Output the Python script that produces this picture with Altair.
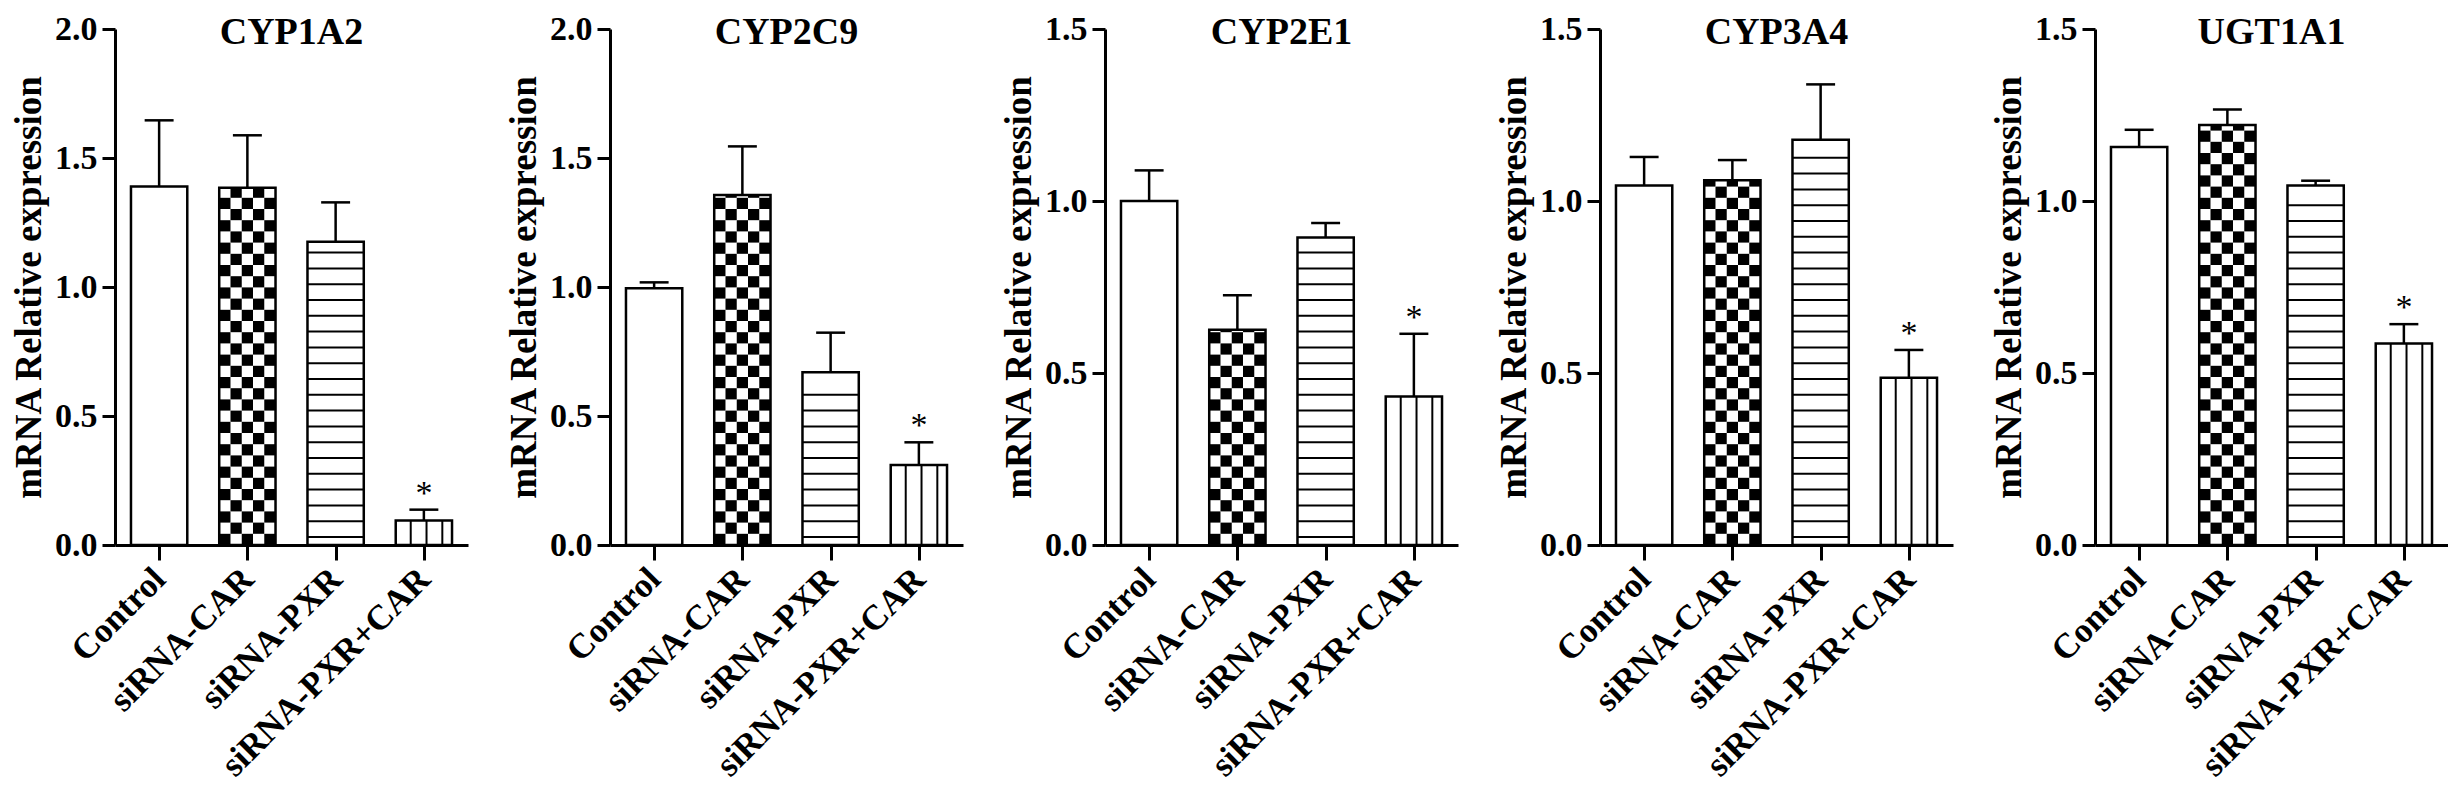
import json
import math
import altair as alt
import pandas as pd

# ---------------- data ----------------
groups = ["Control", "siRNA-CAR", "siRNA-PXR", "siRNA-PXR+CAR"]
genes = ["CYP1A2", "CYP2C9", "CYP2E1", "CYP3A4", "UGT1A1"]
y_max = [2.0, 2.0, 1.5, 1.5, 1.5]

mean_cyp1a2 = [1.390, 1.385, 1.175, 0.095]
mean_cyp2c9 = [0.995, 1.357, 0.670, 0.310]
mean_cyp2e1 = [1.000, 0.626, 0.894, 0.432]
mean_cyp3a4 = [1.045, 1.060, 1.178, 0.486]
mean_ugt1a1 = [1.157, 1.221, 1.045, 0.586]

sd_cyp1a2 = [0.256, 0.203, 0.153, 0.042]
sd_cyp2c9 = [0.023, 0.188, 0.153, 0.088]
sd_cyp2e1 = [0.089, 0.100, 0.042, 0.182]
sd_cyp3a4 = [0.083, 0.059, 0.161, 0.081]
sd_ugt1a1 = [0.050, 0.045, 0.014, 0.056]

significant = [False, False, False, True]

means = [mean_cyp1a2, mean_cyp2c9, mean_cyp2e1, mean_cyp3a4, mean_ugt1a1]
sds = [sd_cyp1a2, sd_cyp2c9, sd_cyp2e1, sd_cyp3a4, sd_ugt1a1]

# ---------------- styles ----------------
FONT = "Liberation Serif"
PLOT_W, PLOT_H = 353, 516
HALF = 0.319          # half bar width, in category units
CAP = 0.164           # half error-cap width, in category units
STEP_PX = PLOT_W / 4  # pixels per category unit
CELL_PX = 11.2        # checkerboard cell
LINE_PX = 15.8        # hatch spacing
LINE_OFF_PX = 8.0     # first horizontal hatch above baseline
BAR_STROKE = 2.5

label_expr = json.dumps(groups) + "[datum.value]"


def panel(gene, ymax, mean, sd):
    df = pd.DataFrame({"idx": list(range(len(groups))), "group": groups,
                       "mean": mean, "sd": sd, "sig": significant})
    df["top"] = df["mean"] + df["sd"]
    df["left"] = df["idx"] - HALF
    df["right"] = df["idx"] + HALF

    px_per_unit = PLOT_H / ymax

    bars = pd.DataFrame({"xa": df["left"], "xb": df["right"], "ya": df["mean"], "yb": 0.0})

    # checkerboard for siRNA-CAR
    cw = 2 * HALF / 5
    ch = CELL_PX / px_per_unit
    r1 = df.iloc[1]
    cells = []
    for r in range(int(math.ceil(r1["mean"] / ch))):
        for c in range(5):
            if (r + c) % 2 == 0:
                cells.append({"xa": r1["left"] + c * cw, "xb": r1["left"] + (c + 1) * cw,
                              "ya": r * ch, "yb": min((r + 1) * ch, r1["mean"])})
    checker = pd.DataFrame(cells)

    # horizontal hatch for siRNA-PXR
    r2 = df.iloc[2]
    sp = LINE_PX / px_per_unit
    hl = []
    k = 0
    while LINE_OFF_PX / px_per_unit + k * sp < r2["mean"] - 0.5 * sp:
        hl.append({"xa": r2["left"], "xb": r2["right"], "ya": LINE_OFF_PX / px_per_unit + k * sp})
        k += 1
    hlines = pd.DataFrame(hl)

    # vertical hatch for siRNA-PXR+CAR
    r3 = df.iloc[3]
    vl = []
    for k in range(1, 4):
        vl.append({"xa": r3["left"] + (k * LINE_PX - 0.8) / STEP_PX, "ya": 0.0, "yb": r3["mean"]})
    vlines = pd.DataFrame(vl)

    # error bars (upper SD only)
    errs = pd.DataFrame({"xa": df["idx"], "ya": df["mean"], "yb": df["top"]})
    caps = pd.DataFrame({"xa": df["idx"] - CAP, "xb": df["idx"] + CAP, "ya": df["top"]})
    stars = pd.DataFrame({"xa": df["idx"][df["sig"]], "ya": df["top"][df["sig"]]})

    xs = alt.Scale(domain=[-0.5, 3.5], nice=False, zero=False)
    ys = alt.Scale(domain=[0, ymax], nice=False)
    yticks = [round(v * 0.5, 1) for v in range(int(ymax / 0.5) + 1)]

    X = lambda **kw: alt.X("xa:Q", scale=xs, **kw)
    Y = lambda **kw: alt.Y("ya:Q", scale=ys, **kw)

    base = alt.Chart(bars).mark_bar(fill="white", stroke=None).encode(
        x=X(axis=alt.Axis(values=[0, 1, 2, 3], labelExpr=label_expr, title=None,
                          labelAngle=-45, labelAlign="right", labelBaseline="middle",
                          labelOverlap=False, labelFlush=False, labelLimit=0,
                          labelFontSize=35, tickSize=15, labelPadding=13, grid=False)),
        x2="xb:Q",
        y=Y(axis=alt.Axis(values=yticks, format=".1f", title="mRNA Relative expression",
                          labelFontSize=34, tickSize=13, labelPadding=5, titlePadding=6,
                          grid=False)),
        y2="yb:Q",
    )

    chk = alt.Chart(checker).mark_rect(fill="black", stroke=None).encode(
        x=X(), x2="xb:Q", y=Y(), y2="yb:Q",
    )
    hh = alt.Chart(hlines).mark_rule(color="black", strokeWidth=2).encode(
        x=X(), x2="xb:Q", y=Y(),
    )
    vv = alt.Chart(vlines).mark_rule(color="black", strokeWidth=2).encode(
        x=X(), y=Y(), y2="yb:Q",
    )
    outline = alt.Chart(bars).mark_bar(fill="white", fillOpacity=0, stroke="black",
                                       strokeWidth=BAR_STROKE).encode(
        x=X(), x2="xb:Q", y=Y(), y2="yb:Q",
    )
    err = alt.Chart(errs).mark_rule(color="black", strokeWidth=BAR_STROKE).encode(
        x=X(), y=Y(), y2="yb:Q",
    )
    cap = alt.Chart(caps).mark_rule(color="black", strokeWidth=BAR_STROKE).encode(
        x=X(), x2="xb:Q", y=Y(),
    )
    star = alt.Chart(stars).mark_text(
        text="*", font=FONT, fontSize=34, fontWeight="normal", fill="black",
        baseline="alphabetic", align="center", dy=-6,
    ).encode(x=X(), y=Y())

    # panel title, drawn inside the top of the plot area as in the figure
    ttl = alt.Chart(pd.DataFrame({"gene": [gene]})).mark_text(
        font=FONT, fontSize=38, fontWeight="bold", fill="black",
        baseline="alphabetic", align="center",
    ).encode(text="gene:N", x=alt.value(PLOT_W / 2), y=alt.value(15))

    return alt.layer(base, chk, hh, vv, outline, err, cap, star, ttl).properties(
        width=PLOT_W, height=PLOT_H,
    )


panels = [panel(g, m, mu, s) for g, m, mu, s in zip(genes, y_max, means, sds)]

chart = alt.hconcat(*panels, spacing=37).properties(
    padding={"left": 2, "top": 4, "right": 0, "bottom": 0},
    background="white",
).configure_view(stroke=None).configure_axis(
    domainColor="black", domainWidth=3, tickColor="black", tickWidth=3,
    labelFont=FONT, labelFontWeight="bold", labelColor="black",
    titleFont=FONT, titleFontWeight="bold", titleFontSize=37, titleColor="black",
)

chart.save("out.html", embed_options={"renderer": "svg", "actions": False})
